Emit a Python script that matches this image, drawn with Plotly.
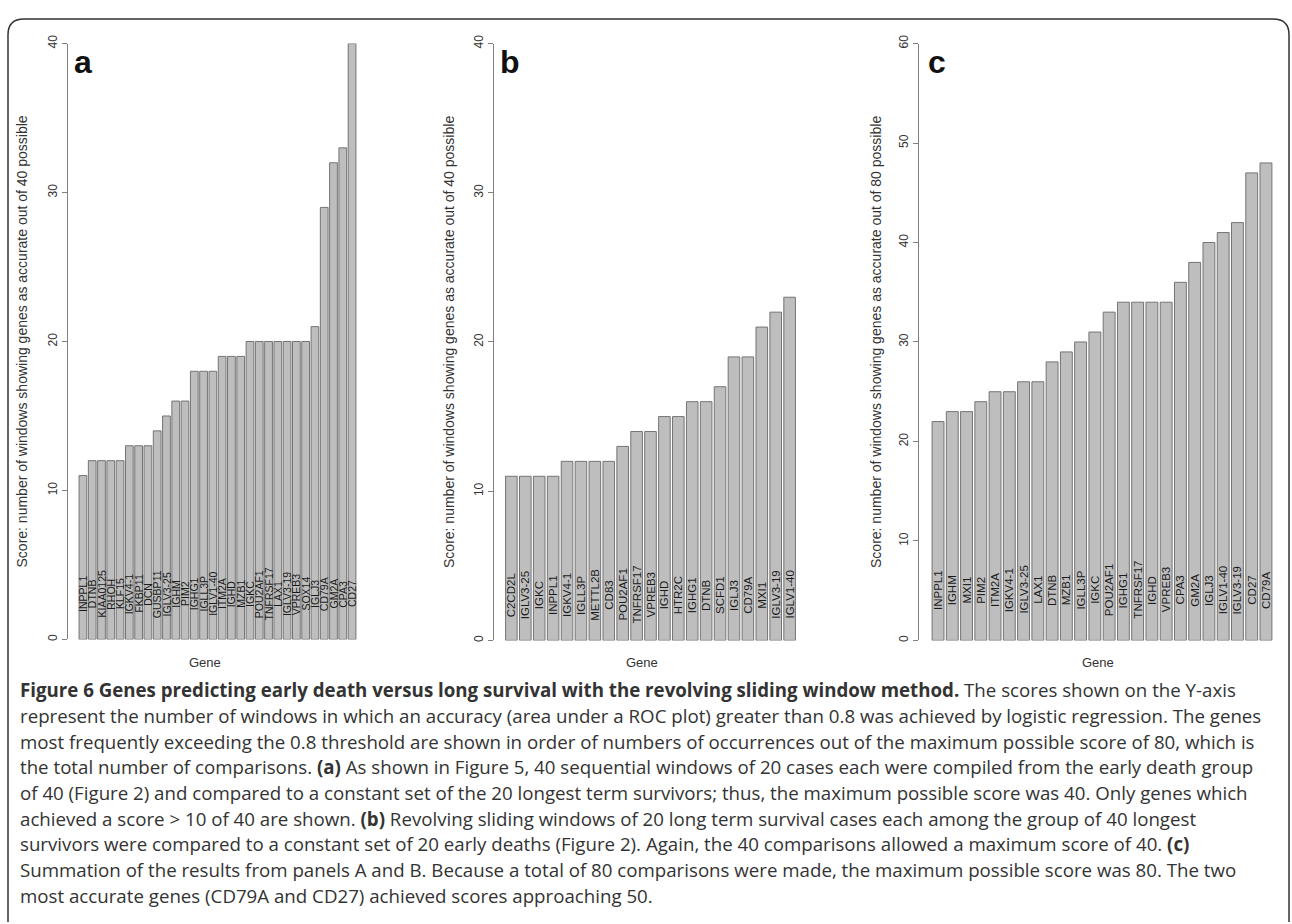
import plotly.graph_objects as go

# ---- data -------------------------------------------------------------
genes_a = ["INPPL1", "DTNB", "KIAA0125", "RHOH", "KLF15", "IGKV4-1", "FKBP11", "DCN",
           "GUSBP11", "IGLV3-25", "IGHM", "PIM2", "IGHG1", "IGLL3P", "IGLV1-40", "ITM2A",
           "IGHD", "MZB1", "IGKC", "POU2AF1", "TNFRSF17", "LAX1", "IGLV3-19", "VPREB3",
           "SOX14", "IGLJ3", "CD79A", "GM2A", "CPA3", "CD27"]
scores_a = [11, 12, 12, 12, 12, 13, 13, 13, 14, 15, 16, 16, 18, 18, 18, 19, 19, 19,
            20, 20, 20, 20, 20, 20, 20, 21, 29, 32, 33, 40]

genes_b = ["C2CD2L", "IGLV3-25", "IGKC", "INPPL1", "IGKV4-1", "IGLL3P", "METTL2B", "CD83",
           "POU2AF1", "TNFRSF17", "VPREB3", "IGHD", "HTR2C", "IGHG1", "DTNB", "SCFD1",
           "IGLJ3", "CD79A", "MXI1", "IGLV3-19", "IGLV1-40"]
scores_b = [11, 11, 11, 11, 12, 12, 12, 12, 13, 14, 14, 15, 15, 16, 16, 17, 19, 19, 21, 22, 23]

genes_c = ["INPPL1", "IGHM", "MXI1", "PIM2", "ITM2A", "IGKV4-1", "IGLV3-25", "LAX1", "DTNB",
           "MZB1", "IGLL3P", "IGKC", "POU2AF1", "IGHG1", "TNFRSF17", "IGHD", "VPREB3", "CPA3",
           "GM2A", "IGLJ3", "IGLV1-40", "IGLV3-19", "CD27", "CD79A"]
scores_c = [22, 23, 23, 24, 25, 25, 26, 26, 28, 29, 30, 31, 33, 34, 34, 34, 34, 36, 38, 40,
            41, 42, 47, 48]

ticks_ab = [0, 10, 20, 30, 40]
ticks_c = [0, 10, 20, 30, 40, 50, 60]

caption_lines = [
    "<b>Figure 6 Genes predicting early death versus long survival with the revolving sliding window method.</b> The scores shown on the Y-axis",
    "represent the number of windows in which an accuracy (area under a ROC plot) greater than 0.8 was achieved by logistic regression. The genes",
    "most frequently exceeding the 0.8 threshold are shown in order of numbers of occurrences out of the maximum possible score of 80, which is",
    "the total number of comparisons. <b>(a)</b> As shown in Figure 5, 40 sequential windows of 20 cases each were compiled from the early death group",
    "of 40 (Figure 2) and compared to a constant set of the 20 longest term survivors; thus, the maximum possible score was 40. Only genes which",
    "achieved a score &gt; 10 of 40 are shown. <b>(b)</b> Revolving sliding windows of 20 long term survival cases each among the group of 40 longest",
    "survivors were compared to a constant set of 20 early deaths (Figure 2). Again, the 40 comparisons allowed a maximum score of 40. <b>(c)</b>",
    "Summation of the results from panels A and B. Because a total of 80 comparisons were made, the maximum possible score was 80. The two",
    "most accurate genes (CD79A and CD27) achieved scores approaching 50.",
]

# ---- page geometry (pixels) --------------------------------------------
W, H = 1292, 924


def px(x):
    return x / W


def py(y):
    return 1 - y / H


AX_FONT = "Liberation Sans, Arial, sans-serif"
BAR_FILL = "#bebebe"
BAR_EDGE = "#747474"
AXIS_GREY = "#808080"

panels = [
    dict(g=genes_a, s=scores_a, xd=(68, 367), xr=(-1.61, 30.61), yr=(0, 40), yd=(638, 35),
         tv=ticks_ab, letter="a", lx=83, maxs=40, tx=22, gy=592, gx=205, gf=10.5),
    dict(g=genes_b, s=scores_b, xd=(494, 807), xr=(-1.25, 21.25), yr=(0, 40), yd=(639, 35),
         tv=ticks_ab, letter="b", lx=510, maxs=40, tx=449, gy=593, gx=642, gf=11.5),
    dict(g=genes_c, s=scores_c, xd=(918.5, 1285.5), xr=(-1.37, 24.37), yr=(0, 60), yd=(639, 35),
         tv=ticks_c, letter="c", lx=937, maxs=80, tx=876, gy=588, gx=1098, gf=11.5),
]

fig = go.Figure()
annotations = []
layout = dict(
    width=W, height=H,
    margin=dict(l=0, r=0, t=0, b=0),
    paper_bgcolor="white", plot_bgcolor="white",
    showlegend=False,
    bargap=0.1667,
    font=dict(family=AX_FONT, color="#333333"),
)

for i, p in enumerate(panels, start=1):
    sfx = "" if i == 1 else str(i)
    fig.add_trace(go.Bar(
        x=p["g"], y=p["s"], xaxis="x" + sfx, yaxis="y" + sfx,
        marker=dict(color=BAR_FILL, line=dict(color=BAR_EDGE, width=1)),
        hoverinfo="x+y",
    ))
    layout["xaxis" + sfx] = dict(
        domain=[px(p["xd"][0]), px(p["xd"][1])], range=list(p["xr"]),
        anchor="y" + sfx, type="category",
        showticklabels=False, showline=False, ticks="", showgrid=False, zeroline=False,
    )
    layout["yaxis" + sfx] = dict(
        domain=[py(p["yd"][0]), py(p["yd"][1])], range=list(p["yr"]),
        anchor="x" + sfx, tickvals=p["tv"], ticks="outside", ticklen=5,
        tickcolor=AXIS_GREY, showline=True, linecolor=AXIS_GREY, linewidth=1,
        showgrid=False, zeroline=False, tickangle=-90,
        tickfont=dict(size=12, color="#333333", family=AX_FONT),
    )
    # panel letter
    annotations.append(dict(
        text="<b>%s</b>" % p["letter"], x=px(p["lx"]), y=py(54), xref="paper", yref="paper",
        showarrow=False, xanchor="center", yanchor="middle",
        font=dict(size=32, color="#111111", family=AX_FONT),
    ))
    # y-axis title
    annotations.append(dict(
        text="Score: number of windows showing genes as accurate out of %d possible" % p["maxs"],
        x=px(p["tx"]), y=py((p["yd"][0] + p["yd"][1]) / 2), xref="paper", yref="paper",
        showarrow=False, textangle=-90, xanchor="center", yanchor="middle",
        font=dict(size=14, color="#333333", family=AX_FONT),
    ))
    # x-axis title
    annotations.append(dict(
        text="Gene", x=px(p["gx"]), y=py(661), xref="paper", yref="paper",
        showarrow=False, xanchor="center", yanchor="middle",
        font=dict(size=13, color="#333333", family=AX_FONT),
    ))
    # gene names written up the bars
    for g in p["g"]:
        annotations.append(dict(
            text=g, x=g, y=py(p["gy"]), xref="x" + sfx, yref="paper",
            showarrow=False, textangle=-90, xanchor="center", yanchor="middle",
            font=dict(size=p["gf"], color="#1a1a1a", family=AX_FONT),
        ))

# caption block
for k, line in enumerate(caption_lines):
    annotations.append(dict(
        text=line, x=px(18), y=py(689 + 26 * k), xref="paper", yref="paper",
        showarrow=False, xanchor="left", yanchor="middle", align="left",
        font=dict(size=18.7, color="#333333", family="Open Sans, sans-serif"),
    ))

layout["annotations"] = annotations

# rounded frame around the figure
frame = ("M %f,%f L %f,%f Q %f,%f %f,%f L %f,%f Q %f,%f %f,%f L %f,%f" % (
    px(8), py(924), px(8), py(26), px(8), py(10), px(24), py(10),
    px(1273), py(10), px(1289), py(10), px(1289), py(26), px(1289), py(924)))
layout["shapes"] = [dict(type="path", path=frame, xref="paper", yref="paper",
                         line=dict(color="#333333", width=1.5))]

fig.update_layout(**layout)
fig.write_html("out.html")
